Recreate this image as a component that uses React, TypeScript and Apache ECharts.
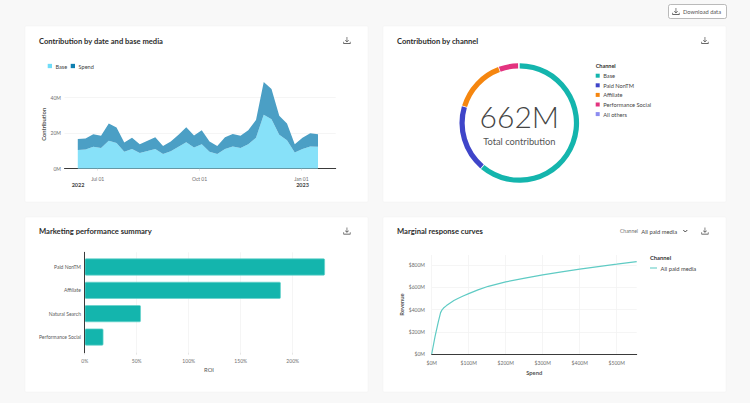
import React, { useEffect, useRef } from "react";
import * as echarts from "echarts";

const dates = ["2022-06-13","2022-06-20","2022-06-27","2022-07-04","2022-07-11","2022-07-18","2022-07-25","2022-08-01","2022-08-08","2022-08-15","2022-08-22","2022-08-29","2022-09-05","2022-09-12","2022-09-19","2022-09-26","2022-10-03","2022-10-10","2022-10-17","2022-10-24","2022-10-31","2022-11-07","2022-11-14","2022-11-21","2022-11-28","2022-12-05","2022-12-12","2022-12-19","2022-12-26","2023-01-02","2023-01-09","2023-01-16"];
const baseValues = [10.6,10.8,12.3,11.7,15.8,14.5,9.6,11.1,8.9,10.0,11.1,8.3,9.8,12.3,14.9,11.9,13.8,9.6,8.3,11.1,12.5,11.7,13.8,17.4,30.4,27.9,19.1,16.0,9.1,11.1,12.5,12.3];
const spendValues = [6.2,6.2,7.1,6.8,9.7,8.7,5.1,6.4,4.9,5.8,6.6,4.5,5.5,6.8,8.5,6.8,7.9,5.7,4.5,6.6,7.1,6.8,7.9,10.1,18.5,17.0,10.7,9.5,4.7,6.4,7.5,7.1];
const channelNames = ["Base","Paid NonTM","Affiliate","Performance Social","All others"];
const channelValues = [405,122,97.5,36,1.5];
const channelColors = ["#14b5ad","#3f45c9","#f5860f","#e3337f","#8c8cf0"];
const roiNames = ["Paid NonTM","Affiliate","Natural Search","Performance Social"];
const roiValues = [231,188.5,54,18];
const curveSpend = [0,9,18,24,28,32,40,50,60,72,85,100,125,153,200,252,300,351,400,450,500,554];
const curveRevenue = [0,156,292,373,398,414,436,460,482,502,522,544,578,610,650,683,713,740,764,788,809,833];

const FONT = "Lato";
const INK = "#2c2c2c";
const MUTED = "#6e6e6e";
const GRID = "#f2f2f2";
const AXIS = "#3a3a3a";

const ICON = "M8.3 1h1.4v9.6l2.9-2.9 1 1L9 13.3 4.4 8.7l1-1 2.9 2.9zM1 12h1.4v3.6h13.2V12H17v5H1z";
echarts.graphic.registerShape("dlicon", echarts.graphic.extendPath(ICON, {}) as any);

const txt = (text: string, x: number, y: number, fontSize: number, fill: string, fontWeight: any = 400, textAlign = "left") => ({
  type: "text", x, y, z: 10,
  style: { text, fontSize, fill, fontWeight, textAlign, textVerticalAlign: "middle", fontFamily: FONT },
});
const card = (x: number, y: number, width: number, height: number) => ({
  type: "rect", z: -10, shape: { x, y, width, height, r: 1 },
  style: { fill: "#ffffff", stroke: "#f1f1f1", lineWidth: 0.5 },
});
const icon = (x: number, y: number, scale = 0.44) => ({
  type: "dlicon", x, y, scaleX: scale, scaleY: scale, z: 10, style: { fill: "#3a3a3a" },
});

const ms = (d: string) => new Date(`${d}T00:00:00`).getTime();
const tickLabel = { fontSize: 5, color: MUTED, fontFamily: FONT };
const nameStyle = { fontSize: 5.8, color: "#555555", fontFamily: FONT, fontWeight: 700 };
const timeTicks = [ms("2022-07-01"), ms("2022-10-01"), ms("2023-01-01")];

function buildOption(): any {
  return {
    animation: false,
    backgroundColor: "#f8f8f8",
    graphic: {
      elements: [
        card(25, 26, 343, 176), card(383, 26, 343, 176), card(25, 217, 343, 175), card(383, 217, 343, 175),
        txt("Contribution by date and base media", 39, 40.5, 7.6, INK, 700),
        txt("Contribution by channel", 397, 40.5, 7.6, INK, 700),
        txt("Marketing performance summary", 39, 231, 7.6, INK, 700),
        txt("Marginal response curves", 397, 231, 7.6, INK, 700),
        icon(343, 36.5), icon(701, 36.5), icon(343, 227), icon(701, 227),
        { type: "rect", z: 10, shape: { x: 668.5, y: 4.5, width: 58, height: 14, r: 2 }, style: { fill: "#ffffff", stroke: "#a8a8a8", lineWidth: 0.8 } },
        icon(672, 7.5),
        txt("Download data", 683, 11.5, 5.7, "#555555"),
        txt("2022", 78, 184.5, 5.5, "#444444", 700, "center"),
        txt("2023", 302.5, 184.5, 5.5, "#444444", 700, "center"),
        txt("662M", 519.3, 116, 30, "#444444", 300, "center"),
        txt("Total contribution", 519.3, 141.3, 9.3, "#555555", 400, "center"),
        txt("Channel", 595.7, 66.3, 5.5, "#333333", 700),
        txt("Channel", 620, 231, 5, MUTED),
        txt("All paid media", 641.3, 231, 5.8, "#444444"),
        { type: "polyline", z: 10, shape: { points: [[683.3, 230], [685.3, 232], [687.3, 230]] }, style: { stroke: "#333333", lineWidth: 0.9, fill: "none" } },
        txt("Channel", 650, 257, 5.8, "#333333", 700),
      ],
    },
    legend: [
      {
        left: 47.7, top: 63, padding: 0, itemWidth: 4.3, itemHeight: 4.3, itemGap: 3.5, selectedMode: false, icon: "rect",
        textStyle: { fontSize: 5.6, color: "#444444", fontFamily: FONT, padding: [0, 0, 0, -1.5] },
        data: [{ name: "Base", itemStyle: { color: "#6fdcf8" } }, { name: "Spend", itemStyle: { color: "#0f7fb0" } }],
      },
      {
        left: 595.7, top: 72.7, padding: 0, orient: "vertical", itemWidth: 4, itemHeight: 4, itemGap: 3.6, selectedMode: false, icon: "rect",
        textStyle: { fontSize: 5.7, color: "#444444", fontFamily: FONT, padding: [0, 0, 0, -1.5] },
        data: channelNames.map((name, i) => ({ name, itemStyle: { color: channelColors[i] } })),
      },
      {
        left: 650, top: 265, padding: 0, itemWidth: 7, itemHeight: 1.2, selectedMode: false, icon: "rect",
        textStyle: { fontSize: 5.8, color: "#444444", fontFamily: FONT, padding: [0, 0, 0, -1.5] },
        data: [{ name: "All paid media", itemStyle: { color: "#74d2cb" } }],
      },
    ],
    grid: [
      { left: 64.5, top: 79.95, width: 271.2, height: 88.75 },
      { left: 84.7, top: 252.3, width: 248.6, height: 100.4 },
      { left: 84.7, top: 255.3, width: 248.6, height: 93.4 },
      { left: 431.7, top: 255, width: 205, height: 99 },
    ],
    xAxis: [
      {
        type: "time", gridIndex: 0, min: ms("2022-06-01"), max: ms("2023-02-01"),
        axisLine: { lineStyle: { color: AXIS, width: 1 } },
        axisTick: { customValues: timeTicks, length: 2, lineStyle: { color: "#cccccc", width: 0.5 } },
        axisLabel: { ...tickLabel, margin: 7.5, customValues: timeTicks, hideOverlap: false, formatter: "{MMM} {dd}" },
        splitLine: { show: false },
      },
      {
        type: "value", gridIndex: 1, min: 0, max: 239, interval: 50,
        name: "ROI", nameLocation: "middle", nameGap: 14, nameTextStyle: { ...nameStyle, fontWeight: 400 },
        axisLine: { show: false },
        axisTick: { show: true, length: 2, lineStyle: { color: "#cccccc", width: 0.5 } },
        axisLabel: { ...tickLabel, margin: 6, showMaxLabel: false, formatter: (v: number) => `${v}%` },
        splitLine: { show: true, showMaxLine: false, lineStyle: { color: GRID, width: 0.8 } },
      },
      { type: "value", gridIndex: 2, min: 0, max: 239, show: false },
      {
        type: "value", gridIndex: 3, min: 0, max: 554, interval: 100,
        name: "Spend", nameLocation: "middle", nameGap: 15.5, nameTextStyle: nameStyle,
        axisLine: { lineStyle: { color: AXIS, width: 1 } },
        axisTick: { show: false },
        axisLabel: { ...tickLabel, margin: 6, showMaxLabel: false, formatter: (v: number) => `$${v}M` },
        splitLine: { show: true, showMaxLine: false, lineStyle: { color: GRID, width: 0.8 } },
      },
    ],
    yAxis: [
      {
        type: "value", gridIndex: 0, min: 0, max: 50, interval: 20,
        name: "Contribution", nameLocation: "middle", nameGap: 18, nameTextStyle: nameStyle,
        axisLine: { show: false }, axisTick: { show: false },
        axisLabel: { ...tickLabel, margin: 3.5, showMaxLabel: false, formatter: (v: number) => `${v}M` },
        splitLine: { show: true, showMaxLine: false, lineStyle: { color: GRID, width: 0.8 } },
      },
      {
        type: "value", gridIndex: 1, min: 0, max: 1, show: true, z: 5,
        axisLine: { show: true, onZero: false, lineStyle: { color: AXIS, width: 1 } },
        axisTick: { show: false }, axisLabel: { show: false }, splitLine: { show: false },
      },
      {
        type: "category", gridIndex: 2, inverse: true, data: roiNames,
        axisLine: { show: false }, axisTick: { show: false },
        axisLabel: { ...tickLabel, margin: 3.7, color: "#5a5a5a" },
      },
      {
        type: "value", gridIndex: 3, min: 0, max: 892, interval: 200,
        name: "Revenue", nameLocation: "middle", nameGap: 27, nameTextStyle: nameStyle,
        axisLine: { show: false }, axisTick: { show: false },
        axisLabel: { ...tickLabel, margin: 6.7, showMaxLabel: false, formatter: (v: number) => `$${v}M` },
        splitLine: { show: true, showMaxLine: false, lineStyle: { color: GRID, width: 0.8 } },
      },
    ],
    series: [
      {
        name: "Base", type: "line", stack: "total", xAxisIndex: 0, yAxisIndex: 0, showSymbol: false, silent: true,
        lineStyle: { width: 0 }, itemStyle: { color: "#6fdcf8" }, areaStyle: { color: "#87e1f9", opacity: 1 },
        data: dates.map((d, i) => [ms(d), baseValues[i]]),
      },
      {
        name: "Spend", type: "line", stack: "total", xAxisIndex: 0, yAxisIndex: 0, showSymbol: false, silent: true,
        lineStyle: { width: 0 }, itemStyle: { color: "#0f7fb0" }, areaStyle: { color: "#4b9fc5", opacity: 1 },
        data: dates.map((d, i) => [ms(d), spendValues[i]]),
      },
      {
        name: "Channel", type: "pie", center: [519.3, 123], radius: [54.6, 59.8], startAngle: 90, padAngle: 0.8, silent: true,
        label: { show: false }, labelLine: { show: false },
        data: channelNames.map((name, i) => ({ name, value: channelValues[i], itemStyle: { color: channelColors[i] } })),
      },
      {
        name: "ROI", type: "bar", xAxisIndex: 2, yAxisIndex: 2, barWidth: 17, silent: true,
        itemStyle: { color: "#14b5ad", borderColor: "#66d3cb", borderWidth: 0.7, borderRadius: 1 },
        data: roiValues,
      },
      {
        name: "All paid media", type: "line", xAxisIndex: 3, yAxisIndex: 3, showSymbol: false, silent: true,
        lineStyle: { color: "#5fcbc4", width: 1.2 }, itemStyle: { color: "#74d2cb" },
        data: curveSpend.map((s, i) => [s, curveRevenue[i]]),
      },
    ],
  };
}

export default function App() {
  const ref = useRef<HTMLDivElement>(null);
  useEffect(() => {
    const chart = echarts.init(ref.current!, undefined, { renderer: "svg" });
    chart.setOption(buildOption());
    return () => chart.dispose();
  }, []);
  return <div ref={ref} style={{ position: "absolute", left: 0, top: 0, width: 750, height: 403 }} />;
}
